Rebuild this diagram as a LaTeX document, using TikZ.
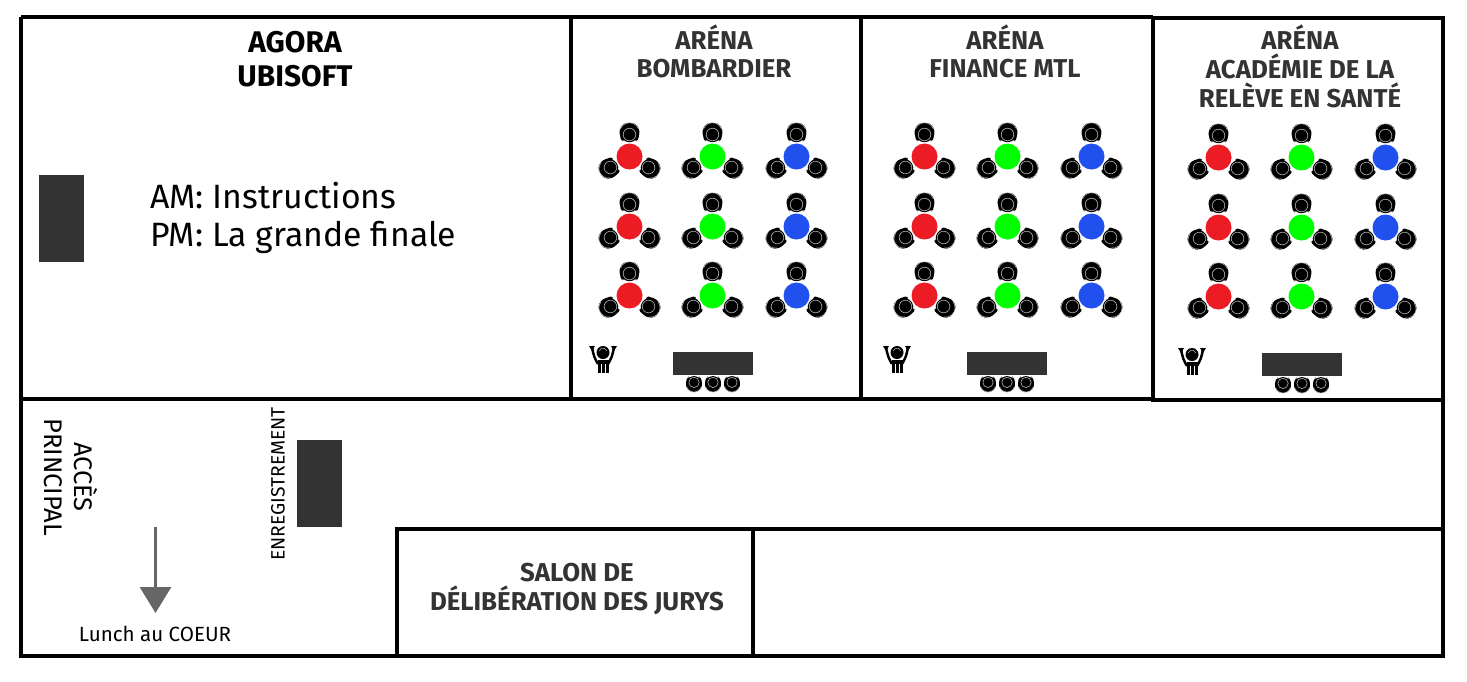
\documentclass[tikz,border=0pt]{standalone}
\usepackage{fontspec}
\setmainfont{Fira Sans}
\usetikzlibrary{arrows.meta}

\definecolor{darkbox}{HTML}{333333}
\definecolor{arrowgray}{HTML}{666666}
\definecolor{tablered}{HTML}{ED1C24}
\definecolor{tablegreen}{HTML}{00FF00}
\definecolor{tableblue}{HTML}{2050EE}

\tikzset{
wall/.style={line width=2.2pt,black},
desk/.style={fill=darkbox,draw=none},
title/.style={font=\fontsize{14.7}{16.3}\selectfont\bfseries,text=darkbox,align=center,inner sep=0pt},
seat/.pic={
  \fill[black] (0,0.5) circle (9.2);
  \fill[black,rounded corners=2] (-10.5,-2) -- (-8,10) -- (-5,6) -- (5,6) -- (8,10) -- (10.5,-2) -- (6,-9.5) -- (-6,-9.5) -- cycle;
  \draw[gray!60,line width=0.35pt] (0,2) circle (6.3);
  \draw[gray!60,line width=0.35pt] (-9,-3.5) arc (-160:-20:9.6);
}
}

\begin{document}
\begin{tikzpicture}[x=0.02cm,y=-0.02cm]
\useasboundingbox (0,0) rectangle (1467,681);

% walls
\draw[wall] (21,17) -- (1153,17);
\draw[wall] (21,17) -- (21,656) -- (1443,656) -- (1443,400);
\draw[wall] (21,399) -- (1153,399);
\draw[wall] (571,17) -- (571,399);
\draw[wall] (861,17) -- (861,399);
\draw[wall] (1153,18) -- (1443,18) -- (1443,400) -- (1153,400) -- cycle;
\draw[wall] (397,656) -- (397,529) -- (1443,529);
\draw[wall] (753,529) -- (753,656);

% tables
\foreach \xa/\ya in {629.5/0.5,924.5/0.5,1218.5/1.5}{
  \foreach \dx/\col in {0/tablered,83/tablegreen,167/tableblue}{
    \foreach \yb in {156,226,295}{
      \foreach \ang in {0,120,240}{
        \pic[rotate=-\ang] at ({\xa+\dx+24*sin(\ang)},{\yb+\ya-24*cos(\ang)}) {seat};
      }
      \fill[\col] ({\xa+\dx},{\yb+\ya}) circle (13);
    }
  }
}

% jury desks with their seats
\foreach \xa/\ya in {673/0,967/0,1262/1}{
  \fill[desk] (\xa,352+\ya) rectangle ++(80,23);
  \foreach \dx in {21,40,59}{
    \pic[scale=0.82,rotate=180] at (\xa+\dx,384+\ya) {seat};
  }
}

% referee
\foreach \xa/\ya in {603/0,897/0,1192/2}{
  \fill[black] (\xa,352.5+\ya) circle (6.5);
  \draw[gray!60,line width=0.3pt] (\xa-4,351+\ya) arc (-160:-20:4.2);
  \draw[black,line width=1.4pt] (\xa-11,346+\ya) .. controls (\xa-10,355+\ya) and (\xa-8,359+\ya) .. (\xa-5,364+\ya);
  \draw[black,line width=1.4pt] (\xa+11,346+\ya) .. controls (\xa+10,355+\ya) and (\xa+8,359+\ya) .. (\xa+5,364+\ya);
  \fill[black] (\xa-14,346+\ya) -- (\xa-8,346+\ya) -- (\xa-11,351+\ya) -- cycle;
  \fill[black] (\xa+14,346+\ya) -- (\xa+8,346+\ya) -- (\xa+11,351+\ya) -- cycle;
  \fill[black] (\xa-5.5,360+\ya) rectangle (\xa+5.5,373+\ya);
  \draw[white,line width=0.35pt] (\xa-2,364+\ya) -- (\xa-2,373+\ya);
  \draw[white,line width=0.35pt] (\xa+2,364+\ya) -- (\xa+2,373+\ya);
}

% registration and stage desks
\fill[desk] (39,175) rectangle (84,262);
\fill[desk] (297,440) rectangle (342,527);

% texts
\node[title,text=black,font=\fontsize{17}{19.3}\selectfont\bfseries] (agora) at (295,59) {AGORA\\UBISOFT};
\node[title] (bombardier) at (714,51.5) {ARÉNA\\BOMBARDIER};
\node[title] (finance) at (1005,51.5) {ARÉNA\\FINANCE MTL};
\node[title] (academie) at (1300,66.5) {ARÉNA\\ACADÉMIE DE LA\\RELÈVE EN SANTÉ};
\node[title] (salon) at (577,589) {SALON DE\\DÉLIBÉRATION DES JURYS};
\node[anchor=west,align=left,inner sep=0pt,font=\fontsize{19.2}{22}\selectfont] (horaire) at (150,218) {AM: Instructions\\PM: La grande finale};
\node[rotate=-90,align=center,inner sep=0pt,font=\fontsize{14.5}{17}\selectfont] (acces) at (71,477) {ACCÈS\\PRINCIPAL};
\node[rotate=90,inner sep=0pt,font=\fontsize{11}{12}\selectfont] (enreg) at (278,484) {ENREGISTREMENT};
\node[inner sep=0pt,font=\fontsize{11.7}{13}\selectfont] (lunch) at (155,634) {Lunch au COEUR};

% way to lunch
\coordinate (depart) at (155.5,527);
\coordinate (arrivee) at (155.5,613);
\draw[arrowgray,line width=1.7pt,-{Triangle[length=26*0.02cm,width=31*0.02cm]}] (depart) -- (arrivee);

\end{tikzpicture}
\end{document}
